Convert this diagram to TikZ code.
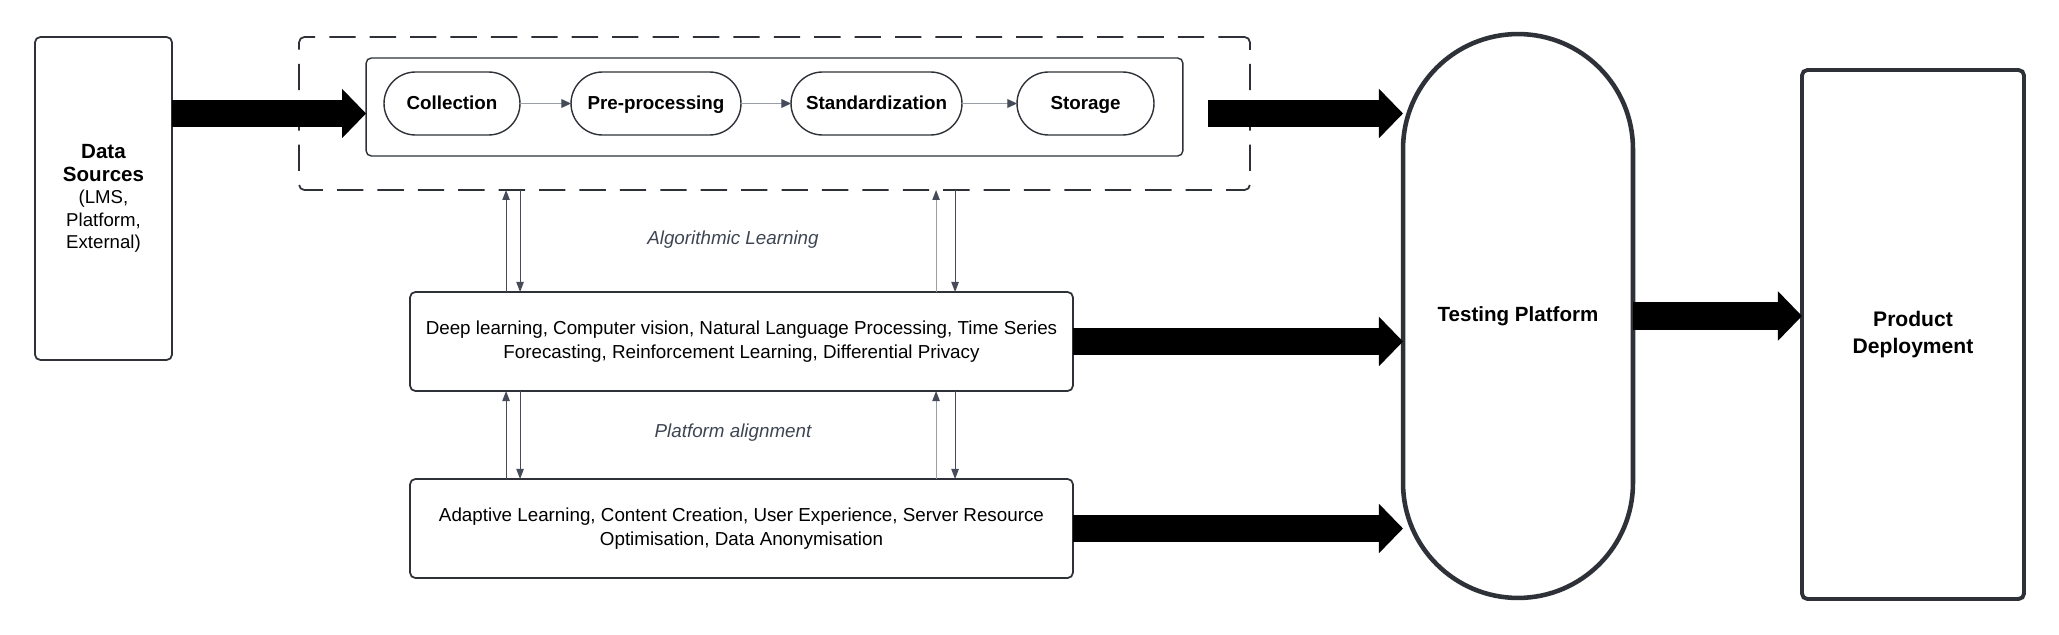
\documentclass[tikz,border=0pt]{standalone}
\usepackage{fontspec}
\setmainfont{Liberation Sans}
\usetikzlibrary{arrows.meta,calc}
\definecolor{edge}{HTML}{2E3238}
\definecolor{note}{HTML}{3E4552}
\definecolor{thin}{HTML}{454B58}
\definecolor{faint}{HTML}{9A9EA6}

\begin{document}
\begin{tikzpicture}[x=0.02cm,y=-0.02cm,every text node part/.style={align=center},
  frame/.style={draw=edge,line width=1pt,rounded corners=3pt,inner sep=0pt,outer sep=0pt},
  pill/.style={draw=edge,line width=0.8pt,rounded corners=0.63cm,minimum width=#1,minimum height=1.26cm,inner sep=0pt,outer sep=0pt,
    text height=1.6ex,text depth=0.3ex,font=\fontsize{10.7}{13}\selectfont\bfseries},
  fat/.style={line width=15.4pt,-{Triangle[length=13.7pt,width=27.3pt]}},
  link/.style={draw=faint,line width=0.6pt,-{Triangle[length=5.5pt,width=5pt,color=thin]}},
  feed/.style={draw=thin,line width=0.6pt,-{Triangle[length=5.7pt,width=4.2pt]}},
  feedlight/.style={draw=faint,line width=0.6pt,-{Triangle[length=5.7pt,width=4.2pt,color=thin]}},
  note/.style={text=note,font=\fontsize{10.7}{13}\selectfont\itshape}]
\useasboundingbox (0,0) rectangle (2059,635);
\node[frame,minimum width=2.74cm,minimum height=6.46cm,font=\fontsize{10.6}{12.8}\selectfont] (src) at (103.5,198.5)
  {{\fontsize{11.7}{14}\selectfont\bfseries Data}\\{\fontsize{11.7}{14}\selectfont\bfseries Sources}\\(LMS,\\Platform,\\External)};
\node[frame,dash pattern=on 15pt off 8pt,minimum width=19.02cm,minimum height=3.06cm] (zone) at (774.5,113.5) {};
\node[frame,line width=0.8pt,minimum width=16.34cm,minimum height=1.96cm] (inner) at (774.5,107) {};
\node[pill=2.72cm] (coll) at (452,103.5) {Collection};
\node[pill=3.4cm] (prep) at (656,103.5) {Pre-processing};
\node[pill=3.42cm] (stdz) at (876.5,103.5) {Standardization};
\node[pill=2.74cm] (stor) at (1085.5,103.5) {Storage};
\node[draw=edge,line width=2.6pt,rounded corners=2.3cm,minimum width=4.6cm,minimum height=11.28cm,inner sep=0pt,outer sep=0pt,
  font=\fontsize{11.7}{14}\selectfont\bfseries] (test) at (1518,316) {Testing Platform};
\node[frame,line width=2.2pt,minimum width=4.44cm,minimum height=10.58cm,font=\fontsize{12}{15}\selectfont\bfseries] (prod) at (1913,334.5)
  {Product\\Deployment};
\node[frame,minimum width=13.26cm,minimum height=1.98cm,font=\fontsize{10.7}{13.7}\selectfont] (dl) at (741.5,341.5)
  {Deep learning, Computer vision, Natural Language Processing, Time Series\\Forecasting, Reinforcement Learning, Differential Privacy};
\node[frame,minimum width=13.26cm,minimum height=1.98cm,font=\fontsize{10.7}{13.7}\selectfont] (app) at (741.5,528.5)
  {Adaptive Learning, Content Creation, User Experience, Server Resource\\Optimisation, Data Anonymisation};
\node[note] (alg) at (733,240) {Algorithmic Learning};
\node[note] (plat) at (733,433) {Platform alignment};
\draw[fat] (src.east |- zone.center) -- (inner.west |- zone.center);
\draw[fat] ($(inner.east |- zone.center)+(25,0)$) -- (test.west |- zone.center);
\draw[fat] (dl.east) -- (test.west |- dl.east);
\draw[fat] (app.east) -- (test.west |- app.east);
\draw[fat] (test.east) -- (prod.west |- test.east);
\draw[link] (coll) -- (prep);
\draw[link] (prep) -- (stdz);
\draw[link] (stdz) -- (stor);
\coordinate (p1) at ($(dl.north west)+(96,0)$);
\coordinate (p2) at ($(dl.north west)+(110,0)$);
\coordinate (p3) at ($(dl.north west)+(526,0)$);
\coordinate (p4) at ($(dl.north west)+(545,0)$);
\coordinate (q1) at ($(app.north west)+(96,0)$);
\coordinate (q2) at ($(app.north west)+(110,0)$);
\coordinate (q3) at ($(app.north west)+(526,0)$);
\coordinate (q4) at ($(app.north west)+(545,0)$);
\draw[feed] (p1) -- (p1 |- zone.south);
\draw[feed] (p2 |- zone.south) -- (p2);
\draw[feedlight] (p3) -- (p3 |- zone.south);
\draw[feed] (p4 |- zone.south) -- (p4);
\draw[feed] (q1) -- (q1 |- dl.south);
\draw[feed] (q2 |- dl.south) -- (q2);
\draw[feedlight] (q3) -- (q3 |- dl.south);
\draw[feed] (q4 |- dl.south) -- (q4);
\end{tikzpicture}
\end{document}
